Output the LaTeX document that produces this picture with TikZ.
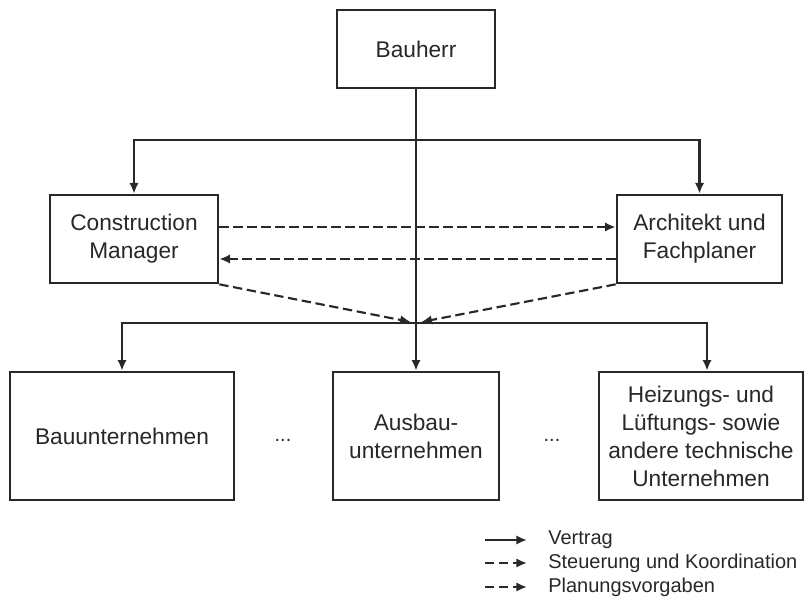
\documentclass[tikz,border=0pt]{standalone}
\usepackage{fontspec}
\setmainfont{Liberation Sans}
\usetikzlibrary{arrows.meta,positioning}
\definecolor{ink}{RGB}{40,40,40}
\tikzset{
  org/.style={draw=ink,line width=2pt,fill=white,align=center,inner sep=2pt,
              font=\fontsize{17}{21}\selectfont,text=ink},
  contract/.style={-{Latex[length=8pt,width=7pt]},line width=1.6pt,draw=ink},
  ctrl/.style={contract,dash pattern=on 7pt off 3.5pt},
  plan/.style={contract,dash pattern=on 7pt off 3.5pt},
  lgd/.style={font=\fontsize{15}{18}\selectfont,text=ink,anchor=west,inner sep=0pt},
  gap/.style={font=\fontsize{15}{18}\selectfont,text=ink},
}
\begin{document}
\begin{tikzpicture}[x=0.75pt,y=-0.75pt]
  \useasboundingbox (0,0) rectangle (806,616);

  % Auftraggeber und Planungsebene
  \node[org,minimum width=118.5pt,minimum height=58.5pt] (bauherr) at (416,49)  {Bauherr};
  \node[org,minimum width=126pt,minimum height=66pt]     (cm)      at (134,239) {Construction\\Manager};
  \node[org,minimum width=123.75pt,minimum height=66pt]  (arch)    at (699.5,239) {Architekt und\\Fachplaner};

  % ausfuehrende Unternehmen
  \node[org,minimum width=168pt,minimum height=96pt]   (bau)    at (122,436) {Bauunternehmen};
  \node[org,minimum width=124.5pt,minimum height=96pt] (ausbau) at (416,436) {Ausbau-\\unternehmen};
  \node[org,minimum width=153pt,minimum height=96pt]   (heiz)   at (701,436)
    {Heizungs- und\\Lüftungs- sowie\\andere technische\\Unternehmen};
  \node[gap] (dotsl) at (283,440) {...};
  \node[gap] (dotsr) at (552,440) {...};

  \coordinate (top) at (416,140);
  \coordinate (hub) at (416,323);

  % Vertraege
  \draw[contract] (bauherr.south) -- (ausbau.north);
  \draw[contract] (top) -| (cm.north);
  \draw[contract] (top) -| (arch.north);
  \draw[contract] (hub) -| (bau.north);
  \draw[contract] (hub) -| ([xshift=4.5pt]heiz.north);

  % Steuerung und Planung
  \draw[ctrl] (cm.east |- 0,227) -- (arch.west |- 0,227);
  \draw[plan] (arch.west |- 0,259) -- (cm.east |- 0,259);
  \draw[ctrl,shorten >=4pt] (cm.south east) -- (hub);
  \draw[plan,shorten >=4pt] (arch.south west) -- (hub);

  % Legende
  \coordinate (l1a) at (485,540); \coordinate (l1b) at (527,540);
  \coordinate (l2a) at (485,563); \coordinate (l2b) at (527,563);
  \coordinate (l3a) at (485,587); \coordinate (l3b) at (527,587);
  \draw[contract] (l1a) -- (l1b);
  \draw[ctrl]     (l2a) -- (l2b);
  \draw[plan]     (l3a) -- (l3b);
  \node[lgd] (t1) at (548,540) {Vertrag};
  \node[lgd] (t2) at (548,563) {Steuerung und Koordination};
  \node[lgd] (t3) at (548,587) {Planungsvorgaben};
\end{tikzpicture}
\end{document}
